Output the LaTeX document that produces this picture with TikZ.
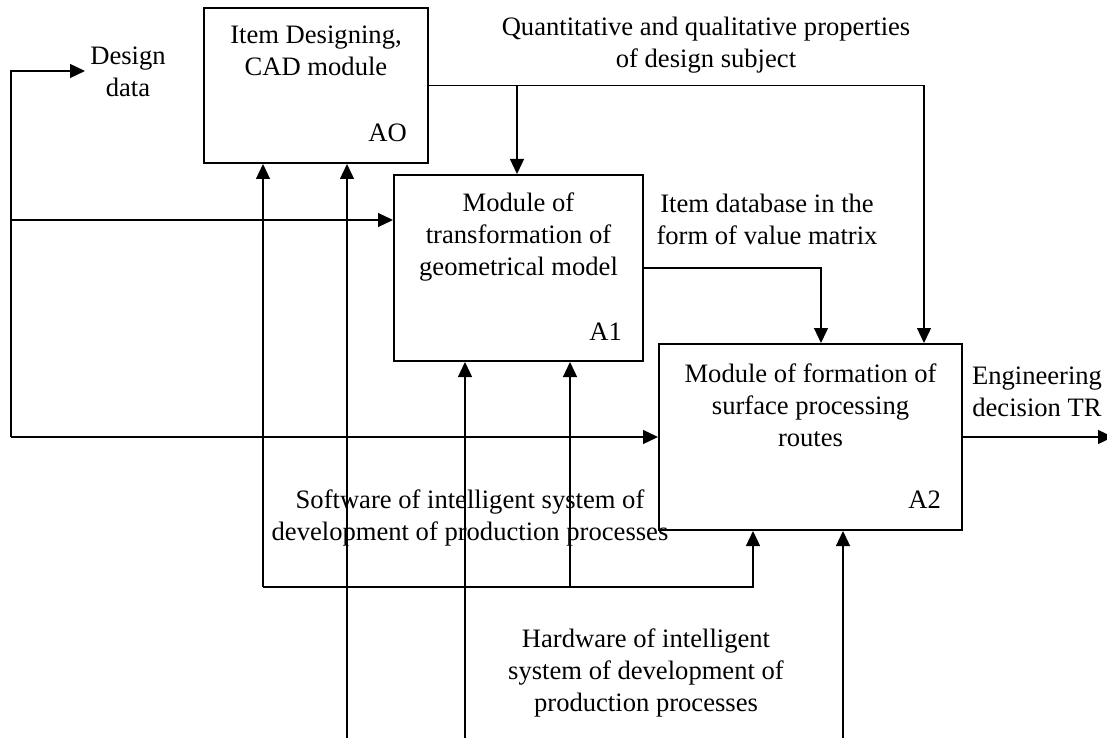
\documentclass[tikz,border=0pt]{standalone}
\usepackage{fontspec}
\setmainfont{Liberation Serif}
\usetikzlibrary{arrows.meta}
\begin{document}
\begin{tikzpicture}[x=1pt,y=-1pt,
  every node/.style={font=\fontsize{26.6pt}{32pt}\selectfont},
  blk/.style={draw, line width=2pt, inner sep=0pt},
  txt/.style={inner sep=0pt, align=center},
  lbl/.style={inner sep=0pt, anchor=base east},
  conn/.style={line width=1.3pt},
  arr/.style={line width=1.3pt, -{Triangle[length=15pt,width=14pt]}}]
\clip (0,0) rectangle (1107,738);
% function blocks
\node[blk, minimum width=224pt, minimum height=155pt] (a0) at (316,85.5) {};
\node[blk, minimum width=249pt, minimum height=186pt] (a1) at (518.5,268) {};
\node[blk, minimum width=303pt, minimum height=186pt] (a2) at (810.5,437) {};
% block texts
\node[txt] (a0t) at (316,51) {Item Designing,\\CAD module};
\node[lbl] (a0n) at (407,142) {AO};
\node[txt] (a1t) at (518.5,237.5) {Module of\\transformation of\\geometrical model};
\node[lbl] (a1n) at (622,340) {A1};
\node[txt] (a2t) at (810.5,405) {Module of formation of\\surface processing\\routes};
\node[lbl] (a2n) at (941,508) {A2};
% connector labels
\node[txt] (dd) at (128,72) {Design\\data};
\node[txt] (qq) at (706,45) {Quantitative and qualitative properties\\of design subject};
\node[txt] (idb) at (767,219) {Item database in the\\form of value matrix};
\node[txt] (eng) at (1037,392) {Engineering\\decision TR};
\node[txt] (sw) at (470,518) {Software of intelligent system of\\development of production processes};
\node[txt] (hw) at (646,673) {Hardware of intelligent\\system of development of\\production processes};
% coordinates of free ends and branch points
\coordinate (in0) at (11,71);
\coordinate (ddtip) at (85,71);
\coordinate (in1) at (11,220);
\coordinate (in2) at (11,437);
\coordinate (qb) at (517,85.5);
\coordinate (qr) at (924,85.5);
\coordinate (ir) at (821,268);
\coordinate (outtip) at (1113,437);
\coordinate (s0) at (263,587);
\coordinate (s1) at (570,587);
\coordinate (s2) at (753,587);
\coordinate (h0) at (347,738);
\coordinate (h1) at (465,738);
\coordinate (h2) at (843,738);
% inputs
\draw[arr] (in2) -- (in0) -- (ddtip);
\draw[arr] (in1) -- (in1 -| a1.west);
\draw[arr] (in2) -- (a2.west);
% controls
\draw[arr] (a0.east) -| (qr |- a2.north);
\draw[arr] (qb) -- (qb |- a1.north);
\draw[arr] (a1.east) -| (ir |- a2.north);
% output
\draw[arr] (a2.east) -- (outtip);
% software mechanism
\draw[arr] (s0) -- (s2) -- (s2 |- a2.south);
\draw[arr] (s0) -- (s0 |- a0.south);
\draw[arr] (s1) -- (s1 |- a1.south);
% hardware mechanism
\draw[arr] (h0) -- (h0 |- a0.south);
\draw[arr] (h1) -- (h1 |- a1.south);
\draw[arr] (h2) -- (h2 |- a2.south);
\end{tikzpicture}
\end{document}
